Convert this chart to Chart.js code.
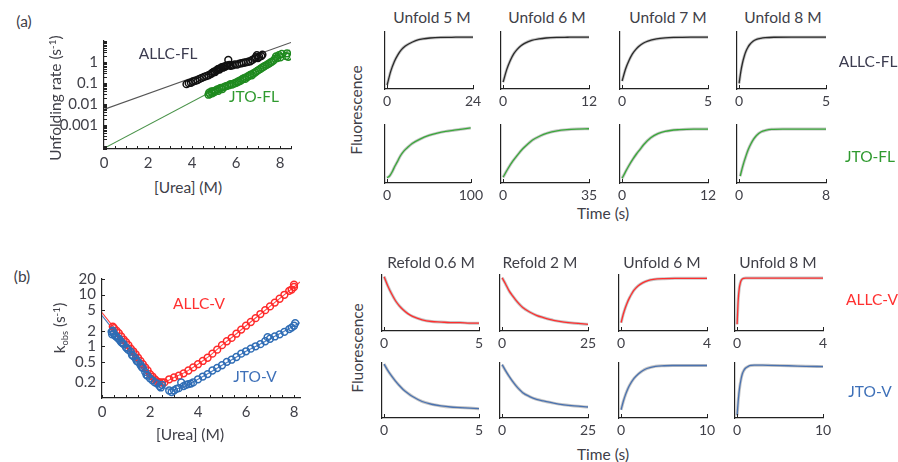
<!DOCTYPE html>
<html>
<head>
<meta charset="utf-8">
<script src="https://cdn.jsdelivr.net/npm/chart.js@4.4.1/dist/chart.umd.min.js"></script>
<style>
  body { margin:0; background:#fff; }
  #fig { position:relative; width:898px; height:462px; overflow:hidden; font-family:Lato, "Open Sans", sans-serif; color:#404048; }
  #fig canvas { position:absolute; }
  .lbl { position:absolute; white-space:nowrap; font-size:15.5px; line-height:1; transform:translate(-50%,-50%); }
  .rot { transform:translate(-50%,-50%) rotate(-90deg); }
  .lbl sup { font-size:65%; vertical-align:top; position:relative; top:-1px; }
  .lbl sub { font-size:60%; vertical-align:bottom; position:relative; top:2px; }
</style>
</head>
<body>
<div id="fig"></div>
<script>
/* ---------- panel (a), left: unfolding rates (log) ---------- */
const allcFL = [[3.75,0.09],[3.85,0.1],[3.95,0.105],[4.05,0.12],[4.15,0.13],[4.25,0.14],[4.35,0.16],[4.45,0.18],[4.55,0.2],[4.65,0.22],[4.75,0.24],[4.85,0.27],[4.9,0.3],[4.95,0.33],[5.0,0.36],[5.05,0.34],[5.1,0.4],[5.15,0.44],[5.2,0.48],[5.25,0.45],[5.3,0.53],[5.35,0.58],[5.4,0.55],[5.45,0.62],[5.5,0.6],[5.55,0.68],[5.6,0.72],[5.65,1.3],[5.7,0.75],[5.75,0.68],[5.85,0.72],[5.95,0.8],[6.05,0.78],[6.15,0.86],[6.25,0.9],[6.35,0.95],[6.45,1.0],[6.55,1.05],[6.65,1.12],[6.75,1.3],[6.85,1.55],[6.9,1.75],[6.95,2.2],[7.0,1.6],[7.05,1.85],[7.15,2.0],[7.2,2.3]];
const jtoFL = [[4.75,0.028],[4.78,0.035],[4.82,0.03],[4.88,0.04],[4.92,0.033],[4.98,0.042],[5.02,0.037],[5.08,0.045],[5.15,0.05],[5.2,0.043],[5.25,0.055],[5.32,0.06],[5.38,0.052],[5.45,0.065],[5.52,0.07],[5.6,0.075],[5.68,0.08],[5.75,0.09],[5.82,0.085],[5.9,0.095],[5.98,0.1],[6.05,0.11],[6.12,0.12],[6.2,0.13],[6.28,0.15],[6.35,0.17],[6.42,0.16],[6.5,0.19],[6.58,0.22],[6.65,0.25],[6.72,0.24],[6.8,0.29],[6.88,0.33],[6.95,0.38],[7.02,0.42],[7.1,0.48],[7.18,0.55],[7.25,0.6],[7.32,0.68],[7.4,0.75],[7.48,0.85],[7.55,0.95],[7.62,1.05],[7.7,1.2],[7.78,1.5],[7.82,1.9],[7.88,1.6],[7.95,2.2],[8.02,1.75],[8.08,2.5],[8.28,2.0],[8.32,2.7],[8.38,1.85]];
const fitAllcFL = [[0,0.0055],[8.5,9]];
const fitJtoFL = [[0,0.000075],[8.45,3.9]];
const rateTickVals = [0.001, 0.01, 0.1, 1];
const rateTickText = ['0.001', '0.01', '0.1', '1'];
const ureaTicksA = [0, 2, 4, 6, 8];

/* ---------- panel (b), left: chevron plot ---------- */
const allcV = [[0.45,2.4],[0.5,2.25],[0.6,2.0],[0.7,1.8],[0.8,1.55],[0.9,1.35],[1.0,1.2],[1.1,1.05],[1.2,0.9],[1.3,0.8],[1.4,0.7],[1.5,0.6],[1.6,0.52],[1.7,0.45],[1.8,0.39],[1.9,0.34],[2.0,0.29],[2.1,0.26],[2.2,0.23],[2.3,0.21],[2.4,0.2],[2.5,0.2],[2.6,0.2],[2.8,0.23],[3.0,0.25],[3.2,0.27],[3.4,0.3],[3.6,0.34],[3.8,0.39],[4.0,0.45],[4.2,0.52],[4.4,0.6],[4.6,0.72],[4.8,0.86],[5.0,1.05],[5.2,1.25],[5.4,1.45],[5.6,1.75],[5.8,2.1],[6.0,2.5],[6.2,2.95],[6.4,3.5],[6.6,4.2],[6.8,5.0],[7.0,5.9],[7.2,7.0],[7.4,8.3],[7.6,9.9],[7.8,11.8],[7.9,12.5],[8.0,14],[8.0,15.5]];
const jtoV = [[0.4,1.9],[0.42,1.7],[0.45,2.0],[0.5,1.75],[0.55,1.6],[0.6,1.55],[0.65,1.45],[0.7,1.4],[0.75,1.3],[0.8,1.2],[0.85,1.15],[0.9,1.1],[1.0,0.95],[1.05,0.9],[1.1,0.85],[1.2,0.78],[1.25,0.68],[1.3,0.65],[1.4,0.58],[1.45,0.52],[1.5,0.5],[1.6,0.44],[1.65,0.4],[1.7,0.38],[1.8,0.32],[1.85,0.28],[1.9,0.27],[2.0,0.24],[2.1,0.22],[2.2,0.2],[2.3,0.19],[2.4,0.17],[2.45,0.16],[2.5,0.18],[2.8,0.14],[2.9,0.13],[3.0,0.14],[3.1,0.15],[3.2,0.155],[3.3,0.2],[3.4,0.17],[3.5,0.18],[3.6,0.185],[3.7,0.19],[3.8,0.2],[4.0,0.23],[4.2,0.26],[4.4,0.29],[4.6,0.34],[4.8,0.38],[5.0,0.43],[5.2,0.5],[5.4,0.55],[5.6,0.62],[5.8,0.72],[6.0,0.8],[6.2,0.9],[6.4,1.0],[6.6,1.1],[6.8,1.25],[6.9,1.5],[7.0,1.4],[7.2,1.55],[7.4,1.7],[7.6,1.9],[7.8,2.15],[7.9,2.3],[8.0,2.5],[8.05,2.8]];
const fitAllcV = [[0,4.5],[0.5,2.3],[1,1.15],[1.5,0.6],[2,0.3],[2.3,0.22],[2.5,0.2],[2.7,0.21],[3,0.25],[3.5,0.32],[4,0.45],[4.5,0.66],[5,1.05],[5.5,1.6],[6,2.5],[6.5,3.85],[7,5.9],[7.5,9.1],[8,14],[8.25,17.5]];
const fitJtoV = [[0,3.9],[0.5,2.0],[1,1.0],[1.5,0.5],[2,0.26],[2.4,0.18],[2.7,0.15],[3,0.145],[3.5,0.17],[4,0.23],[4.5,0.31],[5,0.43],[5.5,0.58],[6,0.8],[6.5,1.05],[7,1.4],[7.5,1.85],[8,2.5],[8.25,2.85]];
const kobsTickVals = [0.2, 0.5, 1, 2, 5, 10, 20];
const ureaTicksB = [0, 2, 4, 6, 8];

/* ---------- kinetic traces (normalised fluorescence) ---------- */
const tA1 = [0,1,2,3,4,5,6,8,10,12,15,18,21,24];
const fA1 = [0.07,0.31,0.48,0.6,0.69,0.75,0.79,0.85,0.88,0.895,0.905,0.907,0.91,0.91];
const tA2 = [0,0.5,1,1.5,2,2.5,3,4,5,6,7.5,9,10.5,12];
const fA2 = [0.12,0.34,0.5,0.62,0.7,0.76,0.8,0.855,0.88,0.895,0.905,0.908,0.91,0.91];
const tA3 = [0,0.2,0.4,0.6,0.8,1,1.25,1.5,2,2.5,3,3.5,4,4.5,5];
const fA3 = [0.14,0.35,0.5,0.615,0.695,0.755,0.806,0.84,0.878,0.896,0.904,0.907,0.909,0.91,0.91];
const tA4 = [0,0.1,0.2,0.3,0.4,0.5,0.6,0.8,1,1.25,1.5,2,3,4,5];
const fA4 = [0.1,0.31,0.465,0.58,0.666,0.729,0.776,0.836,0.87,0.89,0.9,0.908,0.91,0.91,0.91];
const tA5 = [0,3,6,9,12,16,20,25,30,40,50,60,70,80,90,100];
const fA5 = [0.09,0.12,0.19,0.28,0.36,0.47,0.55,0.62,0.68,0.76,0.82,0.86,0.89,0.91,0.93,0.95];
const tA6 = [0,2,4,6,8,10,12,15,18,22,26,30,35];
const fA6 = [0.1,0.25,0.38,0.49,0.59,0.67,0.74,0.81,0.86,0.9,0.92,0.93,0.935];
const tA7 = [0,0.5,1,1.5,2,2.5,3,4,5,6,8,10,12];
const fA7 = [0.08,0.2,0.31,0.41,0.5,0.58,0.66,0.78,0.85,0.89,0.92,0.93,0.93];
const tA8 = [0.1,0.35,0.6,0.85,1.1,1.35,1.6,2,2.5,3,4,5,6,7,8];
const fA8 = [0.12,0.3,0.45,0.58,0.68,0.76,0.82,0.88,0.91,0.925,0.93,0.93,0.93,0.93,0.93];

const tB1 = [0,0.2,0.4,0.6,0.8,1,1.25,1.5,2,2.5,3,3.5,4,4.5,5];
const fB1 = [0.97,0.8,0.66,0.54,0.45,0.38,0.31,0.26,0.2,0.17,0.16,0.15,0.15,0.14,0.14];
const tB2 = [0,1,2,3,4,5,6,8,10,12,15,18,21,25];
const fB2 = [0.95,0.84,0.72,0.63,0.55,0.48,0.42,0.34,0.28,0.24,0.19,0.16,0.14,0.12];
const tB3 = [0,0.1,0.2,0.3,0.4,0.5,0.6,0.8,1,1.25,1.5,2,2.5,3,3.5,4];
const fB3 = [0.15,0.3,0.42,0.52,0.6,0.67,0.73,0.81,0.86,0.9,0.92,0.935,0.94,0.94,0.94,0.94];
const tB4 = [0,0.05,0.1,0.15,0.2,0.3,0.4,0.6,1,1.5,2,3,4];
const fB4 = [0.12,0.55,0.76,0.86,0.91,0.94,0.945,0.945,0.945,0.945,0.945,0.945,0.945];
const tB5 = [0,0.2,0.4,0.6,0.8,1,1.25,1.5,2,2.5,3,3.5,4,4.5,5];
const fB5 = [0.98,0.86,0.76,0.67,0.59,0.52,0.45,0.39,0.3,0.25,0.22,0.2,0.19,0.18,0.17];
const tB6 = [0,1,2,3,4,5,6,8,10,12,15,18,21,25];
const fB6 = [0.97,0.86,0.76,0.67,0.59,0.52,0.46,0.39,0.34,0.31,0.27,0.24,0.22,0.2];
const tB7 = [0,0.25,0.5,0.75,1,1.5,2,2.5,3,4,5,6,7,8,9,10];
const fB7 = [0.15,0.3,0.42,0.52,0.6,0.72,0.8,0.86,0.9,0.94,0.95,0.955,0.955,0.955,0.955,0.955];
const tB8 = [0,0.15,0.3,0.45,0.6,0.8,1,1.3,1.6,2,3,4,6,8,10];
const fB8 = [0.05,0.35,0.56,0.7,0.8,0.87,0.91,0.94,0.955,0.96,0.96,0.955,0.95,0.94,0.935];

const INK = '#404048';
Chart.defaults.font.family = 'Lato, "Open Sans", sans-serif';
Chart.defaults.font.size = 14;
Chart.defaults.color = INK;

const fig = document.getElementById('fig');

// short ticks drawn inward from the axis lines
const innerTicks = {
  id: 'innerTicks',
  afterDraw(chart, _args, o) {
    if (!o.x && !o.y) return;
    const { ctx, chartArea: a, scales } = chart;
    ctx.save();
    ctx.strokeStyle = '#222';
    ctx.lineWidth = 1;
    ctx.beginPath();
    if (o.x) scales.x.ticks.forEach(t => {
      const px = Math.round(scales.x.getPixelForValue(t.value)) + 0.5;
      ctx.moveTo(px, a.bottom); ctx.lineTo(px, a.bottom - o.x);
    });
    if (o.y) scales.y.ticks.forEach(t => {
      const py = Math.round(scales.y.getPixelForValue(t.value)) + 0.5;
      ctx.moveTo(a.left, py); ctx.lineTo(a.left + o.y, py);
    });
    ctx.stroke();
    ctx.restore();
  }
};

// put a chart so that its plot area lands on [L,T,R,B]
function chartAt(area, gut, config) {
  const [L, T, R, B] = area.map(Math.round);
  const w = R - L + gut.y + gut.right;
  const h = B - T + gut.top + gut.x;
  const cv = document.createElement('canvas');
  cv.width = w; cv.height = h;
  cv.style.left = (L - gut.y) + 'px';
  cv.style.top = (T - gut.top) + 'px';
  cv.style.width = w + 'px';
  cv.style.height = h + 'px';
  fig.appendChild(cv);
  const o = config.options;
  o.responsive = false;
  o.animation = false;
  o.layout = { padding: { left: 0, right: gut.right, top: gut.top, bottom: 0 } };
  o.scales.x.afterFit = s => { s.height = gut.x; };
  o.scales.y.afterFit = s => { s.width = gut.y; };
  o.plugins = Object.assign({ legend: { display: false }, tooltip: { enabled: false } }, o.plugins || {});
  config.plugins = [innerTicks];
  return new Chart(cv, config);
}

const pts = arr => arr.map(([x, y]) => ({ x, y }));
const circles = (arr, color) => ({ data: pts(arr), showLine: false, pointRadius: 3.4, pointBorderWidth: 1.5, pointBorderColor: color, pointBackgroundColor: 'rgba(0,0,0,0)' });
const fitLine = (arr, color) => ({ data: pts(arr), showLine: true, borderColor: color, borderWidth: 1.1, pointRadius: 0 });
const axisBorder = { display: true, color: '#222', width: 1.2 };

// half-molar tick marks along the urea axes
const halfSteps = upTo => { const out = []; for (let v = 0; v <= upTo + 1e-9; v += 0.5) out.push({ value: v }); return out; };

/* ---------- (a) left ---------- */
const aMinor = [];
for (let e = -5; e <= 1; e++) for (let m = 1; m <= 9; m++) aMinor.push(m * Math.pow(10, e));

chartAt([104, 32, 291, 149], { y: 50, x: 26, top: 6, right: 8 }, {
  type: 'scatter',
  data: { datasets: [
    circles(allcFL, '#111'),
    circles(jtoFL, '#1f8a1f'),
    fitLine(fitAllcFL, '#555'),
    fitLine(fitJtoFL, '#4a934a')
  ] },
  options: {
    plugins: { innerTicks: { x: 3, y: 3 } },
    scales: {
      x: { type: 'linear', min: 0, max: 8.5, border: axisBorder, grid: { display: false, drawTicks: false },
           afterBuildTicks: s => { s.ticks = halfSteps(8.5); },
           ticks: { padding: 5, maxRotation: 0, autoSkip: false, font: { size: 15 },
                    callback: v => ureaTicksA.includes(v) ? String(v) : '' } },
      y: { type: 'logarithmic', min: 0.00007, max: 10.5, border: axisBorder, grid: { display: false, drawTicks: false },
           afterBuildTicks: s => { s.ticks = aMinor.filter(v => v >= 0.00007 && v <= 10.5).map(v => ({ value: v })); },
           ticks: { padding: 6, autoSkip: false, font: { size: 15 },
                    callback: v => { const i = rateTickVals.findIndex(r => Math.abs(r - v) < r * 1e-6); return i >= 0 ? rateTickText[i] : ''; } } }
    }
  }
});

/* ---------- (b) left ---------- */
chartAt([102, 272, 300, 398], { y: 50, x: 26, top: 8, right: 8 }, {
  type: 'scatter',
  data: { datasets: [
    circles(jtoV, '#2f6db5'),
    circles(allcV, '#ff2a2a'),
    fitLine(fitAllcV, '#ff4848'),
    fitLine(fitJtoV, '#4a7cc0')
  ] },
  options: {
    plugins: { innerTicks: { x: 3, y: 3 } },
    scales: {
      x: { type: 'linear', min: 0, max: 8.25, border: axisBorder, grid: { display: false, drawTicks: false },
           afterBuildTicks: s => { s.ticks = halfSteps(8); },
           ticks: { padding: 5, maxRotation: 0, autoSkip: false, font: { size: 15 },
                    callback: v => ureaTicksB.includes(v) ? String(v) : '' } },
      y: { type: 'logarithmic', min: 0.1, max: 20, border: axisBorder, grid: { display: false, drawTicks: false },
           afterBuildTicks: s => { s.ticks = kobsTickVals.map(v => ({ value: v })); },
           ticks: { padding: 6, autoSkip: false, font: { size: 15 }, callback: v => String(v) } }
    }
  }
});

/* ---------- small trace panels ---------- */
const traces = [
  { area: [381, 32, 473, 89],  max: 24,  t: tA1, f: fA1, color: '#2a2a2a' },
  { area: [497, 32, 589, 89],  max: 12,  t: tA2, f: fA2, color: '#2a2a2a' },
  { area: [616, 32, 708, 89],  max: 5,   t: tA3, f: fA3, color: '#2a2a2a' },
  { area: [733, 32, 826, 89],  max: 5,   t: tA4, f: fA4, color: '#2a2a2a' },
  { area: [381, 125, 473, 183], max: 100, t: tA5, f: fA5, color: '#3aa83a' },
  { area: [497, 125, 589, 183], max: 35,  t: tA6, f: fA6, color: '#3aa83a' },
  { area: [616, 125, 708, 183], max: 12,  t: tA7, f: fA7, color: '#3aa83a' },
  { area: [733, 125, 826, 183], max: 8,   t: tA8, f: fA8, color: '#3aa83a' },
  { area: [378, 275, 479, 331], max: 5,   t: tB1, f: fB1, color: '#ff2e2e' },
  { area: [496, 275, 588, 331], max: 25,  t: tB2, f: fB2, color: '#ff2e2e' },
  { area: [615, 275, 707, 331], max: 4,   t: tB3, f: fB3, color: '#ff2e2e' },
  { area: [731, 275, 823, 331], max: 4,   t: tB4, f: fB4, color: '#ff2e2e' },
  { area: [378, 363, 479, 418], max: 5,   t: tB5, f: fB5, color: '#4a72b0' },
  { area: [496, 363, 588, 418], max: 25,  t: tB6, f: fB6, color: '#4a72b0' },
  { area: [615, 363, 707, 418], max: 10,  t: tB7, f: fB7, color: '#4a72b0' },
  { area: [731, 363, 823, 418], max: 10,  t: tB8, f: fB8, color: '#4a72b0' }
];

traces.forEach(p => {
  const data = p.t.map((x, i) => ({ x, y: p.f[i] }));
  chartAt(p.area, { y: 2, x: 20, top: 4, right: 14 }, {
    type: 'scatter',
    data: { datasets: [
      { data, showLine: true, borderColor: p.color, borderWidth: 1.3, pointRadius: 0, cubicInterpolationMode: 'monotone' },
      { data, showLine: true, borderColor: 'rgba(110,110,110,0.4)', borderWidth: 3, pointRadius: 0, cubicInterpolationMode: 'monotone' }
    ] },
    options: {
      plugins: { innerTicks: { x: 4 } },
      scales: {
        x: { type: 'linear', min: -0.03 * p.max, max: p.max, border: axisBorder, grid: { display: false, drawTicks: false },
             afterBuildTicks: s => { s.ticks = [{ value: 0 }, { value: p.max }]; },
             ticks: { padding: 4, maxRotation: 0, autoSkip: false, callback: v => String(v) } },
        y: { type: 'linear', min: 0, max: 1, border: axisBorder, grid: { display: false, drawTicks: false }, ticks: { display: false } }
      }
    }
  });
});

/* ---------- text ---------- */
const labels = [
  ['(a)', 24, 22, INK, ''], ['(b)', 22, 277, INK, ''],
  ['Unfolding rate (s<sup>-1</sup>)', 56, 98, INK, 'rot'],
  ['ALLC-FL', 168, 54, '#3c3c50', ''], ['JTO-FL', 254, 97, '#2f9a2f', ''],
  ['[Urea] (M)', 188, 188, INK, ''],
  ['k<sub>obs</sub> (s<sup>-1</sup>)', 60, 328, INK, 'rot'],
  ['ALLC-V', 199, 304, '#ff3030', ''], ['JTO-V', 255, 377, '#3e70b8', ''],
  ['[Urea] (M)', 190, 435, INK, ''],
  ['Unfold 5 M', 432, 18, INK, ''], ['Unfold 6 M', 547, 18, INK, ''],
  ['Unfold 7 M', 668, 18, INK, ''], ['Unfold 8 M', 783, 18, INK, ''],
  ['Refold 0.6 M', 431, 263, INK, ''], ['Refold 2 M', 540, 263, INK, ''],
  ['Unfold 6 M', 662, 263, INK, ''], ['Unfold 8 M', 778, 263, INK, ''],
  ['Fluorescence', 357, 110, INK, 'rot'], ['Fluorescence', 358, 348, INK, 'rot'],
  ['Time (s)', 603, 214, INK, ''], ['Time (s)', 603, 455, INK, ''],
  ['ALLC-FL', 868, 62, '#3c3c50', ''], ['JTO-FL', 870, 157, '#2f9a2f', ''],
  ['ALLC-V', 872, 300, '#ff3030', ''], ['JTO-V', 870, 392, '#3e70b8', '']
];
labels.forEach(([html, x, y, color, cls]) => {
  const d = document.createElement('div');
  d.className = 'lbl ' + cls;
  d.innerHTML = html;
  d.style.left = x + 'px';
  d.style.top = y + 'px';
  d.style.color = color;
  fig.appendChild(d);
});
</script>
</body>
</html>
